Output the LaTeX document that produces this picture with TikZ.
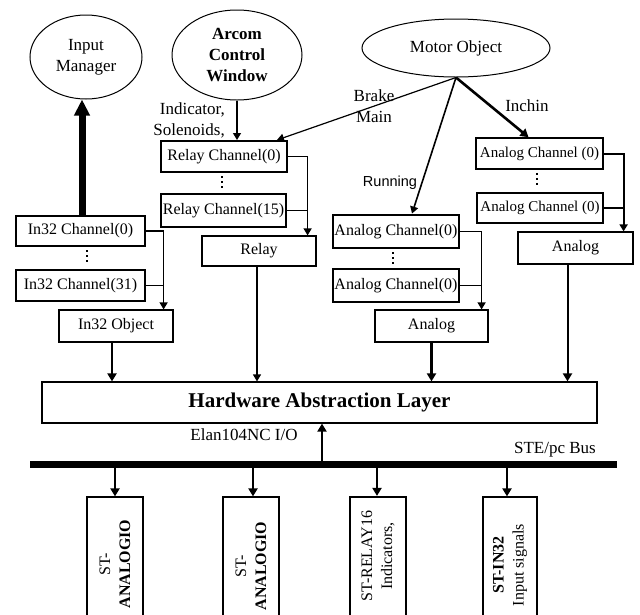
\documentclass[tikz,border=0pt]{standalone}
\usepackage{fontspec}
\setmainfont{Liberation Serif}
\setsansfont{Liberation Sans}
\usetikzlibrary{arrows.meta,shapes.geometric,calc}

\tikzset{
  box/.style={draw, rectangle, line width=1.2pt, inner sep=0pt,
              font=\fontsize{16}{19}\selectfont},
  heavybox/.style={box, line width=2.9pt},
  oval/.style={draw, ellipse, line width=1pt, inner sep=0pt, align=center,
               font=\fontsize{17}{21}\selectfont},
  lbl/.style={inner sep=0pt, align=center, font=\fontsize{17}{21}\selectfont},
  vtext/.style={rotate=90, inner sep=0pt, align=center,
                font=\fontsize{16}{20}\selectfont},
  link/.style={line width=1.2pt},
  arr/.style={link, -{Triangle[length=7pt 0 0, width=8pt 0 0]}},
  midarr/.style={line width=2pt, -{Triangle[length=8pt 0 0, width=9pt 0 0]}},
  bigarr/.style={line width=7pt, -{Triangle[length=16pt 0 0, width=15pt 0 0]}},
  dots/.style={line width=2pt, dash pattern=on 2pt off 3pt}
}

\begin{document}
\begin{tikzpicture}[x=1pt, y=-1pt]
\useasboundingbox (0,0) rectangle (640,614);
\clip (0,0) rectangle (640,614);

% client objects
\node[oval, minimum width=112pt, minimum height=84pt] (im) at (86,57) {Input\\Manager};
\node[oval, font=\fontsize{17}{21}\selectfont\bfseries,
      minimum width=130pt, minimum height=90pt] (acw) at (237,55) {Arcom\\Control\\Window};
\node[oval, minimum width=188pt, minimum height=58pt] (mo) at (456,48) {Motor Object};

% relay channels
\node[box, line width=2pt, minimum width=126pt, minimum height=31pt] (rc0) at (224,156.5) {Relay Channel(0)};
\node[box, minimum width=125pt, minimum height=33pt] (rc15) at (223.5,210.5) {Relay Channel(15)};
\node[box, minimum width=114pt, minimum height=30pt] (relay) at (259,251) {Relay};

% In32 channels
\node[heavybox, minimum width=129pt, minimum height=30pt] (ic0) at (80.5,231) {In32 Channel(0)};
\node[heavybox, minimum width=129pt, minimum height=31pt] (ic31) at (80.5,285.5) {In32 Channel(31)};
\node[box, minimum width=114pt, minimum height=32pt] (io) at (116,326) {In32 Object};

% analog channels (middle)
\node[heavybox, minimum width=126pt, minimum height=33pt] (acm0) at (396,231.5) {Analog Channel(0)};
\node[heavybox, minimum width=126pt, minimum height=33pt] (acm1) at (396,285.5) {Analog Channel(0)};
\node[box, minimum width=113pt, minimum height=32pt] (anm) at (431.5,326) {Analog};

% analog channels (right)
\node[box, line width=1.6pt, font=\fontsize{15}{18}\selectfont, minimum width=127pt, minimum height=31pt] (acr0) at (539.5,153.5) {Analog Channel (0)};
\node[box, line width=1.6pt, font=\fontsize{15}{18}\selectfont, minimum width=126pt, minimum height=30pt] (acr1) at (540,208) {Analog Channel (0)};
\node[box, minimum width=115pt, minimum height=32pt] (anr) at (575.5,248) {Analog};

% abstraction layer
\node[box, font=\fontsize{21}{25}\selectfont\bfseries,
      minimum width=555pt, minimum height=41pt] (hal) at (319.5,402.5) {Hardware Abstraction Layer};

% I/O boards
\node[box, minimum width=56pt, minimum height=143pt] (st1) at (115,568.5) {};
\node[box, minimum width=56pt, minimum height=143pt] (st2) at (251,568.5) {};
\node[box, line width=2.2pt, minimum width=56pt, minimum height=143pt] (st3) at (378,568.5) {};
\node[box, minimum width=54pt, minimum height=143pt] (st4) at (510,568.5) {};
\node[vtext] (st1t) at (115,564) {ST-\\\textbf{ANALOGIO}};
\node[vtext] (st2t) at (251,566) {ST-\\\textbf{ANALOGIO}};
\node[vtext] (st3t) at (378,556) {ST-RELAY16\\Indicators,};
\node[vtext] (st4t) at (510,565) {\textbf{ST-IN32}\\Input signals};

% continuation dots
\draw[dots] ($(ic0.south)+(6,3)$) -- ($(ic0.south)+(6,17)$);
\draw[dots] ($(rc0.south)+(-2,3)$) -- ($(rc0.south)+(-2,16)$);
\draw[dots] ($(acm0.south)+(-3,3)$) -- ($(acm0.south)+(-3,17)$);
\draw[dots] ($(acr0.south)+(-2.5,3)$) -- ($(acr0.south)+(-2.5,16)$);

% labels
\node[lbl, align=right, anchor=east] (ind) at (225,120) {Indicator,\\Solenoids,};
\node[lbl] (brk) at (374,106) {Brake\\Main};
\node[lbl] (inch) at (527,106) {Inchin};
\node[lbl, font=\sffamily\fontsize{14.5}{17}\selectfont] (run) at (390,183) {Running};
\node[lbl] (elan) at (244,435) {Elan104NC I/O};
\node[lbl] (ste) at (555,450) {STE/pc Bus};

% commands into the channels
\draw[arr] (acw.south) -- (acw.south |- rc0.north);
\draw[arr] (mo.south) -- ($(rc0.north east)+(-11,0)$);
\draw[arr, line width=1.6pt] (mo.south) -- ($(acm0.north)+(16,0)$);
\draw[midarr, line width=2.6pt] (mo.south) -- ($(acr0.north)+(-11,0)$);
\coordinate (imin) at ($(ic0.north)+(1.5,0)$);
\draw[bigarr] (imin) -- (imin |- im.south);

% channel groups into their objects
\coordinate (rj) at ($(relay.north east)+(-9,0)$);
\draw[arr] (rc0.east) -| (rj);
\draw[link] (rc15.east) -- (rc15.east -| rj);
\coordinate (ij) at ($(io.north east)+(-10,0)$);
\draw[arr] (ic0.east) -| (ij);
\draw[link] (ic31.east) -- (ic31.east -| ij);
\coordinate (mj) at ($(anm.north east)+(-7,0)$);
\draw[arr] (acm0.east) -| (mj);
\draw[link] (acm1.east) -- (acm1.east -| mj);
\coordinate (aj) at ($(anr.north east)+(-10,0)$);
\draw[arr, line width=2pt] (acr0.east) -| (aj);
\draw[link, line width=2pt] (acr1.east) -- (acr1.east -| aj);

% objects into the abstraction layer
\coordinate (ioo) at ($(io.south)+(-4,0)$);
\draw[midarr] (ioo) -- (ioo |- hal.north);
\coordinate (rlo) at ($(relay.south)+(-2,0)$);
\draw[arr] (rlo) -- (rlo |- hal.north);
\draw[midarr, line width=2.6pt] (anm.south) -- (anm.south |- hal.north);
\coordinate (aro) at ($(anr.south)+(-8,0)$);
\draw[midarr] (aro) -- (aro |- hal.north);

% bus
\coordinate (busL) at (30,464);
\coordinate (busR) at (617,464);
\coordinate (elanb) at (322,464);
\draw[midarr] (elanb) -- (elanb |- hal.south);
\draw[midarr] (st1.north |- busL) -- (st1.north);
\coordinate (b2) at ($(st2.north)+(2,0)$);
\draw[midarr] (b2 |- busL) -- (b2);
\coordinate (b3) at ($(st3.north)+(-1,0)$);
\draw[midarr] (b3 |- busL) -- (b3);
\coordinate (b4) at ($(st4.north)+(-3,0)$);
\draw[midarr] (b4 |- busL) -- (b4);
\draw[line width=7pt] (busL) -- (busR);
\end{tikzpicture}
\end{document}
